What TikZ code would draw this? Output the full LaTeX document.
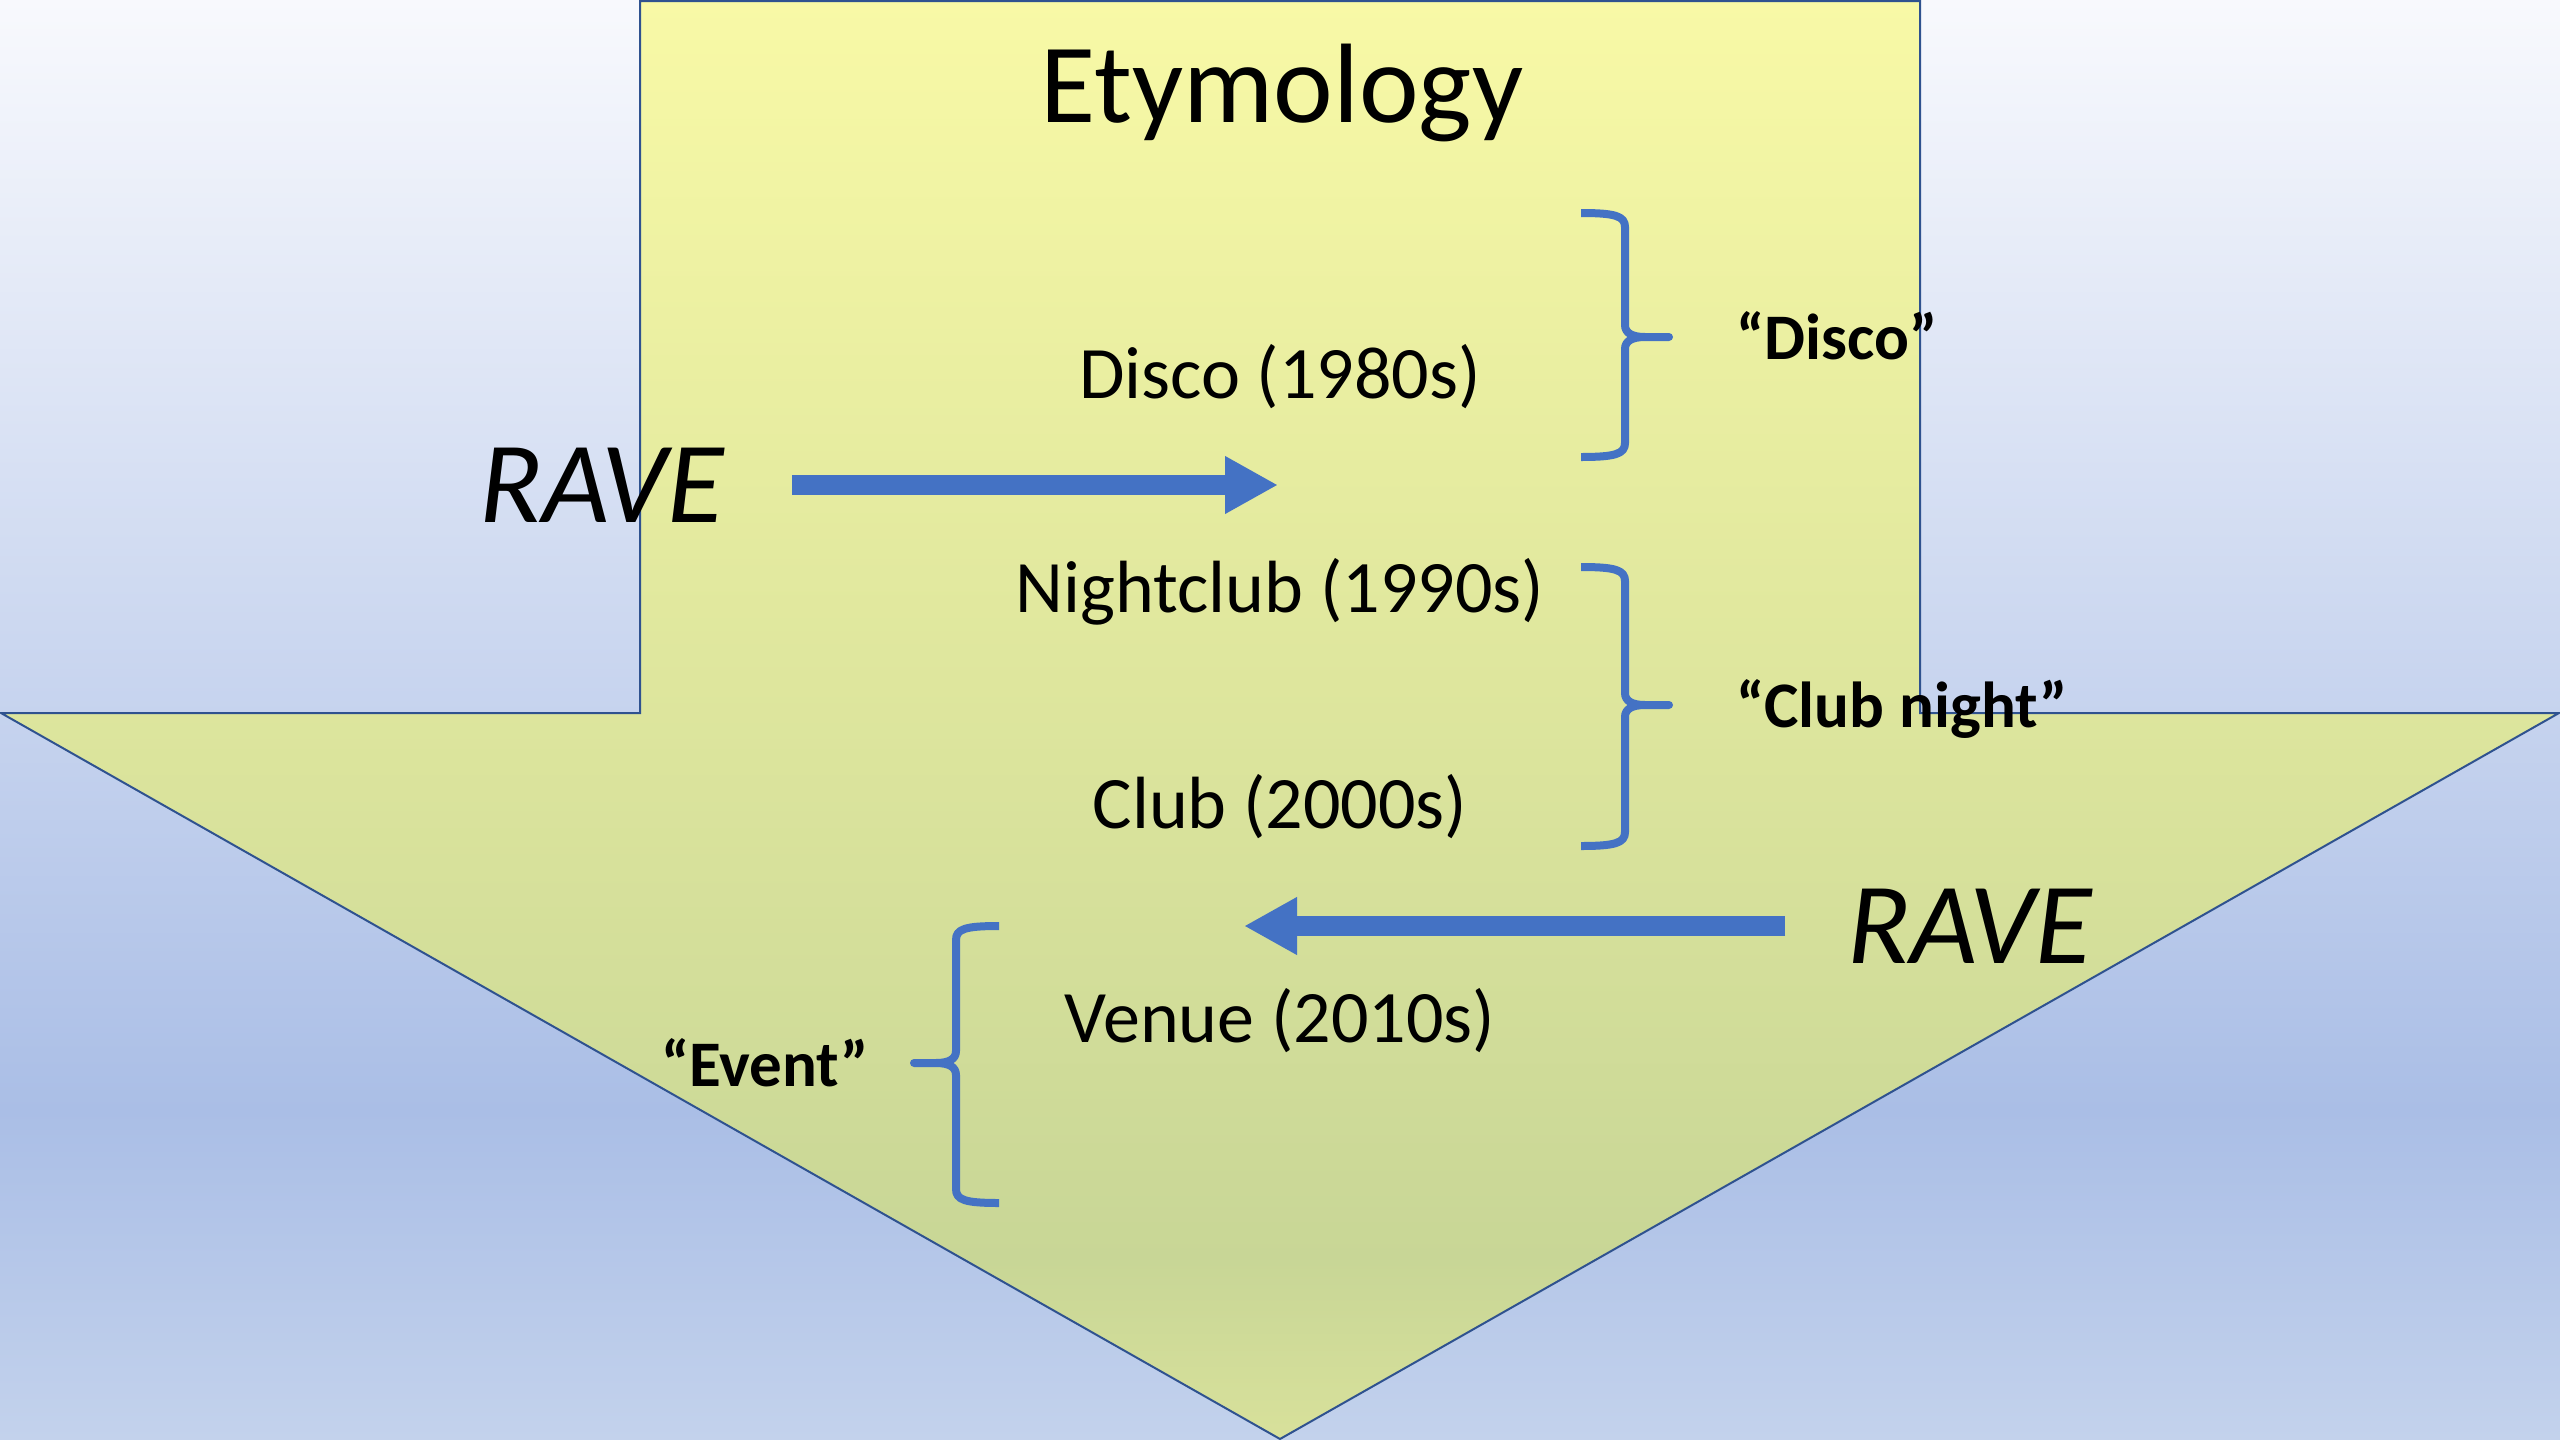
\documentclass[tikz,border=0pt]{standalone}
\usepackage{fontspec}
\setmainfont{Carlito}
\usetikzlibrary{arrows.meta}
\definecolor{bgtop}{RGB}{248,249,253}
\definecolor{bgmid}{RGB}{170,190,230}
\definecolor{bgbot}{RGB}{195,210,236}
\definecolor{yltop}{RGB}{248,249,166}
\definecolor{ylmid}{RGB}{200,214,150}
\definecolor{ylbot}{RGB}{216,225,155}
\definecolor{edgeblue}{RGB}{47,82,143}
\definecolor{accent}{RGB}{68,114,196}
\begin{document}
\begin{tikzpicture}[x=1pt,y=-1pt,
  item/.style={font=\fontsize{74}{88}\selectfont, anchor=base, inner sep=0pt},
  ravetext/.style={font=\fontsize{116}{130}\selectfont\itshape, anchor=base, inner sep=0pt},
  tagtext/.style={font=\fontsize{65}{76}\selectfont\bfseries, anchor=base west, inner sep=0pt},
  bigarrow/.style={draw=accent, line width=20pt, -{Triangle[length=53pt,width=54pt]}},
  bracestyle/.style={draw=accent, line width=8pt, line join=round}]
\useasboundingbox (0,0) rectangle (2560,1440);
% background
\fill[top color=bgtop,bottom color=bgmid] (0,0) rectangle (2560,1111);
\fill[top color=bgmid,bottom color=bgbot] (0,1110) rectangle (2560,1440);
% down arrow shape
\def\downarrowpath{(640,1) -- (1920,1) -- (1920,713) -- (2559,713) -- (1280,1439) -- (1,713) -- (640,713) -- cycle}
\begin{scope}
\clip \downarrowpath;
\fill[top color=yltop,bottom color=ylmid] (0,0) rectangle (2560,1261);
\fill[top color=ylmid,bottom color=ylbot] (0,1260) rectangle (2560,1440);
\end{scope}
\draw[edgeblue, line width=2pt, line join=miter] \downarrowpath;
% texts
\node[anchor=base, inner sep=0pt, font=\fontsize{113}{124}\selectfont] (title) at (1282,122) {Etymology};
\node[item] (disco) at (1280,398) {Disco (1980s)};
\node[item] (nightclub) at (1280,612) {Nightclub (1990s)};
\node[item] (club) at (1280,828) {Club (2000s)};
\node[item] (venue) at (1280,1042) {Venue (2010s)};
\node[ravetext] (raveL) at (602,522) {RAVE};
\node[ravetext] (raveR) at (1970,963) {RAVE};
\node[tagtext] (tagdisco) at (1736,359) {“Disco”};
\node[tagtext] (tagclub) at (1736,727) {“Club night”};
\node[tagtext] (tagevent) at (661,1086) {“Event”};
% arrows
\coordinate (a1s) at (792,485);
\coordinate (a1e) at (1278,485);
\coordinate (a2s) at (1785,926);
\coordinate (a2e) at (1244,926);
\draw[bigarrow] (a1s) -- (a1e);
\draw[bigarrow] (a2s) -- (a2e);
% right braces
\foreach \yt/\ym/\yb in {213/337/457, 567/705/846}{
  \draw[bracestyle] (1581,\yt) .. controls (1615,\yt) and (1625,\yt+3) .. (1625,\yt+14)
    -- (1625,\ym-12) .. controls (1625,\ym-4) and (1632,\ym) .. (1645,\ym) -- (1669,\ym)
    -- (1645,\ym) .. controls (1632,\ym) and (1625,\ym+4) .. (1625,\ym+12)
    -- (1625,\yb-14) .. controls (1625,\yb-3) and (1615,\yb) .. (1581,\yb);
}
% left brace
\draw[bracestyle] (999,926) .. controls (965,926) and (956,929) .. (956,940)
  -- (956,1051) .. controls (956,1059) and (949,1063) .. (936,1063) -- (914,1063)
  -- (936,1063) .. controls (949,1063) and (956,1067) .. (956,1075)
  -- (956,1189) .. controls (956,1200) and (965,1203) .. (999,1203);
\end{tikzpicture}
\end{document}
